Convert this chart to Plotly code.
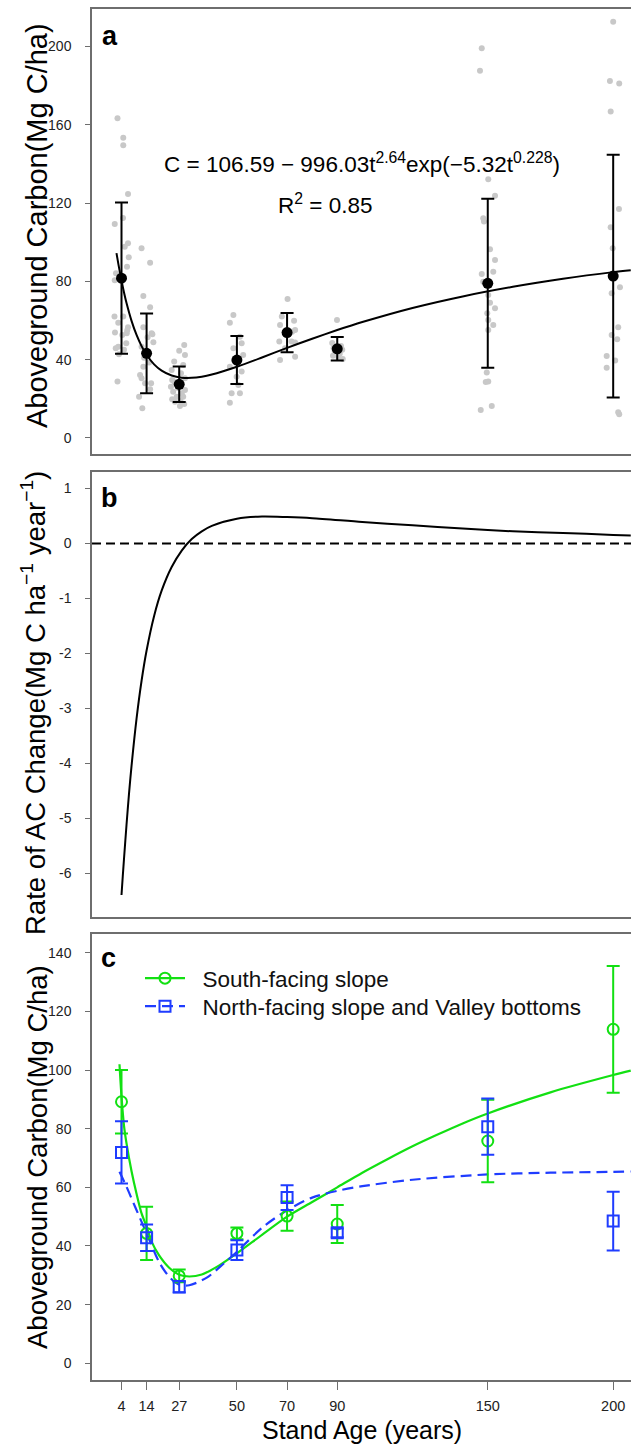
import plotly.graph_objects as go

# ---------------- data ----------------
ages = [4, 14, 27, 50, 70, 90, 150, 200]
tick_text_x = ["4", "14", "27", "50", "70", "90", "150", "200"]

# panel a: plot-level observations (jittered ages as drawn)
dot_age = [2.4, 4.7, 4.7, 6.6, 1.3, 4.6, 6.6, 5.3, 6.9, 6.2, 1.8, 1.3, 3.5, 1.2, 2.7, 4.7, 6.6, 1.4, 4.3, 6.1, 5.9, 2.7, 1.7, 5.0, 2.4, 3.0, 6.3,
           12.0, 15.4, 12.7, 15.4, 12.7, 16.0, 16.7, 12.0, 14.4, 12.7, 11.4, 12.0, 13.4, 15.4, 11.0, 12.3, 15.8, 16.3, 13.0, 15.0,
           29.0, 27.0, 29.3, 25.0, 28.6, 24.0, 27.7, 24.2, 29.3, 23.7, 29.3, 24.6, 26.0, 28.6, 25.3, 27.3, 29.0, 24.2, 28.0, 25.0, 26.5, 27.5,
           48.6, 47.2, 51.2, 51.9, 48.6, 52.5, 47.2, 51.9, 49.9, 47.9, 51.2, 47.2, 50.6,
           70.2, 67.9, 72.8, 67.2, 73.2, 66.9, 71.8, 73.2, 67.2, 73.2, 69.2, 72.0,
           89.9, 88.0, 91.5, 88.5, 92.0, 89.0, 91.0, 88.3, 90.5, 92.2,
           147.6, 146.9, 150.2, 152.9, 148.2, 148.5, 150.9, 152.9, 152.2, 147.6, 148.2, 150.2, 150.9, 152.9, 149.8, 150.2, 152.2, 150.2, 149.6, 150.2, 149.2, 147.2, 151.6,
           200.0, 198.7, 202.4, 199.0, 202.3, 199.0, 199.8, 202.7, 199.4, 202.0, 199.4, 201.6, 197.4, 200.8, 197.4, 202.0, 202.4]
dot_val = [163.3, 153.4, 149.5, 124.6, 109.3, 112.4, 99.4, 97.7, 92.3, 87.5, 84.1, 80.5, 80.8, 62.0, 58.9, 62.0, 56.5, 53.8, 52.6, 53.5, 48.4, 46.6, 45.8, 45.0, 28.8, 42.8, 55.0,
           96.9, 89.5, 72.5, 66.7, 56.5, 53.5, 48.9, 46.6, 51.4, 36.4, 32.2, 30.5, 27.9, 24.9, 21.1, 15.2, 28.0, 53.0, 41.0, 38.5,
           47.5, 44.6, 42.4, 39.0, 37.3, 34.7, 33.0, 29.6, 30.5, 26.2, 24.5, 23.6, 21.1, 21.1, 18.5, 16.3, 17.4, 19.8, 22.8, 28.8, 25.5, 19.0,
           62.8, 58.9, 51.7, 48.4, 45.8, 42.4, 36.4, 33.9, 31.3, 22.8, 22.8, 18.0, 27.1,
           71.0, 62.0, 59.9, 57.7, 55.2, 49.2, 49.2, 48.7, 39.8, 41.5, 45.8, 54.3,
           60.3, 48.5, 47.0, 46.0, 45.0, 44.0, 43.0, 42.0, 41.0, 40.3,
           199.0, 187.6, 132.1, 123.7, 112.2, 110.5, 96.4, 90.9, 84.9, 83.8, 79.8, 73.0, 69.1, 66.2, 63.7, 60.3, 57.7, 55.2, 33.4, 28.8, 28.6, 14.3, 16.3,
           212.6, 182.3, 181.1, 166.7, 117.0, 107.6, 96.9, 77.0, 73.9, 56.5, 52.6, 50.4, 41.9, 39.5, 35.9, 13.1, 12.1]

mean_a = [81.6, 43.2, 27.4, 39.8, 53.8, 45.5, 79.0, 82.7]
sd_a = [38.6, 20.4, 9.1, 12.3, 10.0, 6.0, 43.2, 62.0]

fit_age = [2, 2.5, 3, 4, 5, 6, 8, 10, 12, 14, 17, 20, 24, 28, 32, 36, 40, 50, 60, 70, 80, 90, 100, 120, 140, 160, 180, 200, 207]
fit_val = [94.4, 90.7, 87.1, 80.4, 74.3, 68.9, 59.8, 52.6, 46.9, 42.5, 37.6, 34.4, 31.9, 30.8, 30.7, 31.3, 32.4, 36.4, 41.1, 46.0, 50.7, 55.1, 59.2, 66.4, 72.3, 77.2, 81.3, 84.7, 85.7]

# panel b: rate of change
rate_age = [4, 4.5, 5, 6, 7, 8, 10, 12, 14, 17, 20, 24, 28, 32, 36, 40, 50, 60, 70, 80, 100, 120, 140, 160, 180, 200, 207]
rate_val = [-6.40, -6.06, -5.74, -5.12, -4.55, -4.05, -3.19, -2.50, -1.95, -1.32, -0.86, -0.43, -0.13, 0.08, 0.22, 0.32, 0.45, 0.49, 0.48, 0.46, 0.39, 0.33, 0.27, 0.22, 0.19, 0.155, 0.146]

# panel c: aspects
south_mean = [89.2, 44.3, 29.8, 44.3, 50.2, 47.5, 75.8, 113.9]
south_err = [10.8, 9.1, 2.2, 2.0, 5.0, 6.5, 14.1, 21.6]
north_mean = [71.9, 42.8, 26.1, 38.6, 56.5, 44.5, 80.7, 48.5]
north_err = [10.6, 4.5, 2.0, 3.4, 4.2, 1.5, 9.6, 10.0]

south_fit_age = [3.2, 4, 5, 6, 8, 10, 12, 14, 16, 19, 23, 27, 31, 36, 43, 50, 60, 70, 80, 90, 100, 110, 120, 130, 140, 150, 175, 200, 207]
south_fit_val = [102.0, 91.0, 81.0, 75.0, 65.5, 57.8, 51.1, 46.6, 41.5, 36.8, 32.6, 30.2, 29.6, 30.3, 33.4, 37.5, 43.8, 50.0, 55.0, 60.0, 65.0, 69.6, 74.0, 78.0, 81.8, 85.2, 92.4, 98.3, 99.8]
north_fit_age = [3.2, 6, 9.5, 14, 19, 23, 27, 31, 38, 45, 50, 60, 70, 80, 90, 100, 120, 150, 175, 200, 207]
north_fit_val = [65.3, 60.2, 53.2, 44.3, 34.5, 29.5, 26.8, 26.6, 29.2, 34.2, 38.0, 46.2, 52.2, 56.5, 58.8, 60.4, 62.6, 64.4, 65.0, 65.3, 65.4]

# ---------------- layout helpers ----------------
W, H = 631, 1445
FONT = "Arial, 'Liberation Sans', sans-serif"
GREEN = "#12E012"
BLUE = "#1F3CFF"
FRAME = "#6e6e6e"
XR = [-7.76, 207.1]


def px(x):
    return x / W


def py(y):
    return 1 - y / H


fig = go.Figure()

# panel a
fig.add_trace(go.Scatter(x=dot_age, y=dot_val, mode="markers", xaxis="x", yaxis="y",
                         marker=dict(color="#c8c8c8", size=6), showlegend=False, hoverinfo="skip"))
fig.add_trace(go.Scatter(x=fit_age, y=fit_val, mode="lines", xaxis="x", yaxis="y",
                         line=dict(color="black", width=2, shape="spline", smoothing=0.8), showlegend=False))
fig.add_trace(go.Scatter(x=ages, y=mean_a, mode="markers", xaxis="x", yaxis="y",
                         marker=dict(color="black", size=11),
                         error_y=dict(type="data", array=sd_a, color="black", thickness=2, width=6.5),
                         showlegend=False))

# panel b
fig.add_trace(go.Scatter(x=rate_age, y=rate_val, mode="lines", xaxis="x2", yaxis="y2",
                         line=dict(color="black", width=2, shape="spline", smoothing=0.8), showlegend=False))

# panel c
fig.add_trace(go.Scatter(x=south_fit_age, y=south_fit_val, mode="lines", xaxis="x3", yaxis="y3",
                         line=dict(color=GREEN, width=2.2, shape="spline", smoothing=0.8), showlegend=False))
fig.add_trace(go.Scatter(x=north_fit_age, y=north_fit_val, mode="lines", xaxis="x3", yaxis="y3",
                         line=dict(color=BLUE, width=2.2, dash="11px,6px", shape="spline", smoothing=0.8), showlegend=False))
fig.add_trace(go.Scatter(x=ages, y=south_mean, mode="markers", xaxis="x3", yaxis="y3",
                         marker=dict(symbol="circle-open", size=11, color=GREEN, line=dict(width=2, color=GREEN)),
                         error_y=dict(type="data", array=south_err, color=GREEN, thickness=2, width=6.5),
                         showlegend=False))
fig.add_trace(go.Scatter(x=ages, y=north_mean, mode="markers", xaxis="x3", yaxis="y3",
                         marker=dict(symbol="square-open", size=11, color=BLUE, line=dict(width=2, color=BLUE)),
                         error_y=dict(type="data", array=north_err, color=BLUE, thickness=2, width=6.5),
                         showlegend=False))
# legend entries (one legend box per row for exact spacing)
fig.add_trace(go.Scatter(x=[None], y=[None], mode="lines+markers", xaxis="x3", yaxis="y3",
                         name="\u00a0\u00a0South-facing slope", legend="legend",
                         line=dict(color=GREEN, width=2.2),
                         marker=dict(symbol="circle-open", size=11, color=GREEN, line=dict(width=2, color=GREEN))))
fig.add_trace(go.Scatter(x=[None], y=[None], mode="lines+markers", xaxis="x3", yaxis="y3",
                         name="\u00a0\u00a0North-facing slope and Valley bottoms", legend="legend2",
                         line=dict(color=BLUE, width=2.2, dash="11px,6px"),
                         marker=dict(symbol="square-open", size=11, color=BLUE, line=dict(width=2, color=BLUE))))

x0 = px(92)
base_x = dict(range=XR, showgrid=False, zeroline=False, showline=True, linecolor=FRAME, linewidth=1.5,
              mirror=True, domain=[x0, 1])
base_y = dict(showgrid=False, zeroline=False, showline=True, linecolor=FRAME, linewidth=1.5,
              ticks="outside", ticklen=5, tickcolor=FRAME, tickwidth=1.2,
              tickfont=dict(size=14, color="#222", family=FONT), ticklabelstandoff=11)
leg = dict(xanchor="left", yanchor="top", bgcolor="rgba(0,0,0,0)",
           font=dict(size=22.5, family=FONT, color="#111"), itemwidth=40)

fig.update_layout(
    width=W, height=H,
    margin=dict(l=0, r=0, t=0, b=0),
    paper_bgcolor="white", plot_bgcolor="white",
    font=dict(family=FONT, color="black"),
    xaxis=dict(base_x, anchor="y", showticklabels=False, ticks=""),
    yaxis=dict(base_y, anchor="x", domain=[py(454), py(9)], range=[-8.2, 219.1],
               tickvals=[0, 40, 80, 120, 160, 200]),
    xaxis2=dict(base_x, anchor="y2", showticklabels=False, ticks=""),
    yaxis2=dict(base_y, anchor="x2", domain=[py(917), py(472)], range=[-6.8, 1.3],
                tickvals=[-6, -5, -4, -3, -2, -1, 0, 1],
                ticktext=["-6", "-5", "-4", "-3", "-2", "-1", "0", "1"]),
    xaxis3=dict(base_x, anchor="y3", tickvals=ages, ticktext=tick_text_x, ticks="outside", ticklen=8,
                tickcolor=FRAME, tickwidth=1.2, tickfont=dict(size=14.5, color="#222", family=FONT),
                ticklabelstandoff=4),
    yaxis3=dict(base_y, anchor="x3", domain=[py(1380), py(934)], range=[-5.7, 146.4],
                tickvals=[0, 20, 40, 60, 80, 100, 120, 140]),
    legend=dict(leg, x=px(140), y=py(957)),
    legend2=dict(leg, x=px(140), y=py(985)),
    shapes=[dict(type="line", xref="x2 domain", yref="y2", x0=0, x1=1, y0=0, y1=0,
                 line=dict(color="black", width=2, dash="9px,5px"))],
)

ann = [
    dict(text="<b>a</b>", x=px(109.6), y=py(35.5), size=27),
    dict(text="<b>b</b>", x=px(109.7), y=py(497.5), size=27),
    dict(text="<b>c</b>", x=px(108.6), y=py(957.5), size=27),
    dict(text="C = 106.59 \u2212 996.03t<sup>2.64</sup>exp(\u22125.32t<sup>0.228</sup>)", x=px(362), y=py(163), size=22.5),
    dict(text="R<sup>2</sup> = 0.85", x=px(325), y=py(204), size=22.5),
    dict(text="Stand Age (years)", x=px(362), y=py(1430), size=25),
]
for a in ann:
    fig.add_annotation(text=a["text"], x=a["x"], y=a["y"], xref="paper", yref="paper",
                       xanchor="center", yanchor="middle", showarrow=False, borderpad=0,
                       font=dict(size=a["size"], family=FONT, color="black"))

ytitles = [
    ("Aboveground Carbon(Mg C/ha)", 37, 226, 29),
    ("Rate of AC Change(Mg C ha<sup>\u22121</sup> year<sup>\u22121</sup>)", 33, 703, 27.5),
    ("Aboveground Carbon(Mg C/ha)", 37, 1157, 27.5),
]
for t, xx, yy, s in ytitles:
    fig.add_annotation(text=t, x=px(xx), y=py(yy), xref="paper", yref="paper", textangle=-90,
                       xanchor="center", yanchor="middle", showarrow=False,
                       font=dict(size=s, family=FONT, color="black"))

fig.write_html("out.html")
